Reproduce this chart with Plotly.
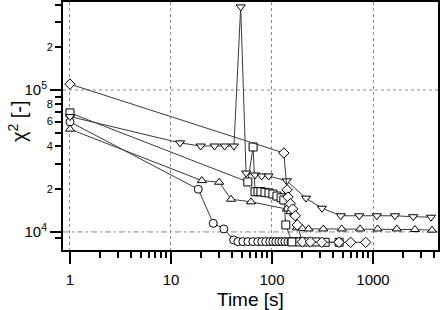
import plotly.graph_objects as go
import math

# ---- data ----
diamond_x = [1, 131, 141, 144, 152, 160, 170, 178, 200, 240, 311, 460, 600, 846]
diamond_y = [1.1e5, 3.6e4, 1.98e4, 1.76e4, 1.58e4, 1.45e4, 1.3e4, 1.12e4, 8.5e3, 8.5e3, 8.45e3, 8.45e3, 8.45e3, 8.45e3]

square_x = [1, 57.6, 65, 67.9, 72.7, 77.8, 85.3, 93.4, 102, 112, 123, 131, 137, 158, 189, 222, 273, 336, 462]
square_y = [6.9e4, 2.25e4, 3.97e4, 1.92e4, 1.92e4, 1.92e4, 1.9e4, 1.88e4, 1.85e4, 1.79e4, 1.74e4, 1.68e4, 1.12e4,
            8.5e3, 8.5e3, 8.5e3, 8.5e3, 8.45e3, 8.45e3]

tridown_x = [1, 12.3, 19.7, 27, 34, 42, 49, 55.4, 67.9, 79.1, 92.4, 140, 217, 312, 480, 730, 1090, 1650, 2500, 3750]
tridown_y = [6.5e4, 4.24e4, 4.03e4, 4.03e4, 4.03e4, 4.03e4, 3.85e5, 2.6e4, 2.52e4, 2.48e4, 2.48e4, 2.29e4,
             1.73e4, 1.47e4, 1.3e4, 1.3e4, 1.3e4, 1.3e4, 1.28e4, 1.27e4]

triup_x = [1, 20.2, 30, 39.3, 62, 140, 152, 166, 176, 200, 230, 322, 490, 745, 1110, 1720, 2600, 3840]
triup_y = [5.3e4, 2.3e4, 2.24e4, 1.7e4, 1.63e4, 1.45e4, 1.39e4, 1.35e4, 1.07e4, 1.06e4, 1.05e4, 1.05e4,
           1.05e4, 1.05e4, 1.05e4, 1.05e4, 1.04e4, 1.03e4]

circle_x = [1, 18.6, 26.2, 33.4, 41.7, 46, 51.5, 57.7, 64.6, 72.3, 79.2, 86.7, 95, 102, 109, 117, 125, 134,
            144, 154, 165, 177, 189, 211]
circle_y = [5.96e4, 2.0e4, 1.15e4, 1.05e4, 8.78e3, 8.55e3, 8.55e3, 8.55e3, 8.55e3, 8.55e3, 8.55e3, 8.55e3,
            8.55e3, 8.55e3, 8.55e3, 8.55e3, 8.55e3, 8.55e3, 8.55e3, 8.55e3, 8.55e3, 8.55e3, 8.55e3, 8.55e3]

x_major = [1, 10, 100, 1000]
x_major_text = ["1", "10", "100", "1000"]
y_decades = [1e4, 1e5]
y_decade_text = ["10<sup>4</sup>", "10<sup>5</sup>"]
y_minor = [9e3, 2e4, 3e4, 4e4, 5e4, 6e4, 7e4, 8e4, 9e4, 2e5, 3e5, 4e5]
y_minor_text = ["", "2", "", "4", "", "6", "", "8", "", "2", "", ""]

FONT = "Liberation Sans, Arial, sans-serif"

series = [
    (circle_x, circle_y, "circle"),
    (triup_x, triup_y, "triangle-up"),
    (square_x, square_y, "square"),
    (tridown_x, tridown_y, "triangle-down"),
    (diamond_x, diamond_y, "diamond"),
]

fig = go.Figure()
for xs, ys, sym in series:
    fig.add_trace(go.Scatter(
        x=xs, y=ys, mode="lines+markers",
        line=dict(color="#3a3a3a", width=1),
        marker=dict(symbol=sym, size=8, color="white", line=dict(color="black", width=1)),
        showlegend=False,
    ))

# invisible trace for secondary y axis (minor labels)
fig.add_trace(go.Scatter(x=[1], y=[1e4], yaxis="y2", mode="markers",
                         marker=dict(opacity=0), showlegend=False, hoverinfo="skip"))

x_minor = [v * m for v in [1, 10, 100, 1000] for m in [2, 3, 4, 5, 6, 7, 8, 9]]

yr = [math.log10(7460), math.log10(4.17e5)]

fig.update_layout(
    width=442, height=310,
    margin=dict(l=63, r=4, t=2, b=60),
    paper_bgcolor="white", plot_bgcolor="white",
    font=dict(family=FONT, color="black", size=15),
    xaxis=dict(
        type="log", range=[math.log10(0.853), math.log10(4400)], automargin=False,
        tickmode="array", tickvals=x_major, ticktext=x_major_text,
        ticks="outside", ticklen=12, tickwidth=2, tickcolor="black",
        ticklabelstandoff=3,
        minor=dict(tickmode="array", tickvals=x_minor, ticklen=6, tickwidth=2, tickcolor="black", ticks="outside"),
        showline=True, linewidth=2, linecolor="black", mirror=True,
        showgrid=True, gridcolor="#8a8a8a", griddash="dot", gridwidth=1,
        zeroline=False,
        tickfont=dict(size=15),
    ),
    yaxis=dict(
        type="log", range=yr, automargin=False,
        tickmode="array", tickvals=y_decades, ticktext=y_decade_text,
        ticks="outside", ticklen=11, tickwidth=2, tickcolor="black",
        showline=True, linewidth=2, linecolor="black", mirror=True,
        showgrid=False, zeroline=False,
        tickfont=dict(size=15),
    ),
    yaxis2=dict(
        type="log", range=yr, overlaying="y", side="left", anchor="x", automargin=False,
        tickmode="array", tickvals=y_minor, ticktext=y_minor_text,
        ticks="outside", ticklen=7, tickwidth=2, tickcolor="black",
        showgrid=False, zeroline=False, showline=False,
        tickfont=dict(size=11),
    ),
    shapes=[
        dict(type="line", xref="paper", yref="y", x0=0, x1=1, y0=1e5, y1=1e5,
             line=dict(color="#8a8a8a", width=1, dash="dot"), layer="below"),
        dict(type="line", xref="paper", yref="y", x0=0, x1=1, y0=1e4, y1=1e4,
             line=dict(color="#8a8a8a", width=1, dash="6px,3px,2px,3px"), layer="below"),
    ],
    annotations=[
        dict(text="Time [s]", xref="paper", yref="paper", x=0.5, y=0, xanchor="center", yanchor="top",
             yshift=-37, showarrow=False, font=dict(size=19)),
        dict(text="χ<sup>2</sup> [-]", xref="paper", yref="paper", x=0, y=0.52, xanchor="center",
             yanchor="middle", xshift=-46, textangle=-90, showarrow=False, font=dict(size=20)),
    ],
)

fig.write_html("out.html", config={"displayModeBar": False},
               post_script="document.body.style.margin='0';document.body.style.overflow='hidden';")
